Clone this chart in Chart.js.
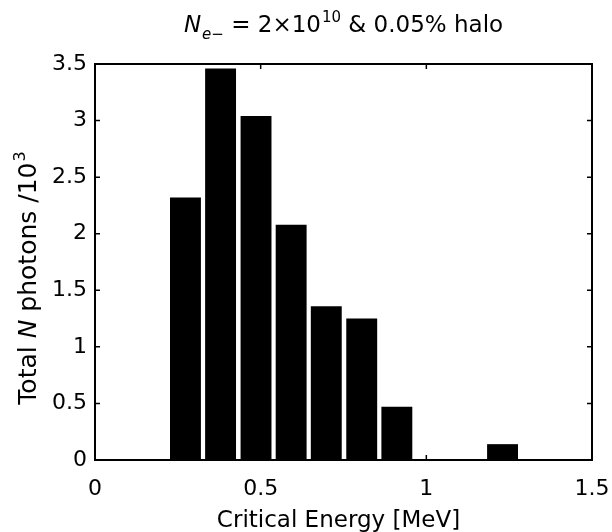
<!DOCTYPE html>
<html>
<head>
<meta charset="utf-8">
<script src="https://cdn.jsdelivr.net/npm/chart.js@4.4.1/dist/chart.umd.min.js"></script>
<style>
  html, body { margin: 0; padding: 0; background: #fff; }
  #wrap { width: 612px; height: 532px; }
</style>
</head>
<body>
<div id="wrap"><canvas id="grafico1" width="612" height="532"></canvas></div>
<script>
// Datos
const energyBins = [0.273, 0.379, 0.486, 0.592, 0.698, 0.805, 0.911, 1.017, 1.124, 1.230]; // MeV (centros)
const photonCounts = [2.32, 3.46, 3.04, 2.08, 1.36, 1.25, 0.47, 0, 0, 0.14]; // /10^3
const xTicks = [0, 0.5, 1, 1.5];
const yTicks = [0, 0.5, 1, 1.5, 2, 2.5, 3, 3.5];

const FONT = '"DejaVu Sans", "Liberation Sans", Arial, sans-serif';

// Dibuja texto por partes (cursiva, sub/superíndices)
function drawPieces(ctx, pieces, x, y, align) {
    let total = 0;
    pieces.forEach(p => {
        ctx.font = (p.italic ? 'italic ' : '') + p.size + 'px ' + FONT;
        p.w = ctx.measureText(p.text).width + (p.gap || 0);
        total += p.w;
    });
    let cx = align === 'center' ? x - total / 2 : x;
    pieces.forEach(p => {
        ctx.font = (p.italic ? 'italic ' : '') + p.size + 'px ' + FONT;
        ctx.fillText(p.text, cx + (p.gap || 0), y + (p.dy || 0));
        cx += p.w;
    });
}

// Caja, marcas hacia dentro y textos estilo MATLAB
const matlabFrame = {
    id: 'matlabFrame',
    afterDatasetsDraw(chart) {
        const { ctx, chartArea: a, scales } = chart;
        ctx.save();
        ctx.strokeStyle = '#000';
        ctx.lineWidth = 1.5;
        ctx.beginPath();
        xTicks.forEach(v => {
            const px = scales.x.getPixelForValue(v);
            ctx.moveTo(px, a.bottom); ctx.lineTo(px, a.bottom - 5);
            ctx.moveTo(px, a.top); ctx.lineTo(px, a.top + 5);
        });
        yTicks.forEach(v => {
            const py = scales.y.getPixelForValue(v);
            ctx.moveTo(a.left, py); ctx.lineTo(a.left + 5, py);
            ctx.moveTo(a.right, py); ctx.lineTo(a.right - 5, py);
        });
        ctx.stroke();
        ctx.lineWidth = 2;
        ctx.strokeRect(a.left, a.top, a.right - a.left, a.bottom - a.top);

        ctx.fillStyle = '#000';
        ctx.textBaseline = 'alphabetic';
        ctx.textAlign = 'left';

        // Título
        drawPieces(ctx, [
            { text: 'N', size: 23, italic: true },
            { text: 'e\u2212', size: 15, italic: true, dy: 7, gap: 1 },
            { text: ' = 2\u00d710', size: 23 },
            { text: '10', size: 15, dy: -10, gap: 1 },
            { text: ' & 0.05% halo', size: 23 }
        ], (a.left + a.right) / 2, 32, 'center');

        // Eje X
        ctx.font = '23px ' + FONT;
        ctx.textAlign = 'center';
        ctx.fillText('Critical Energy [MeV]', (a.left + a.right) / 2 - 5, 527);

        // Eje Y
        ctx.textAlign = 'left';
        ctx.save();
        ctx.translate(36, a.top + 214);
        ctx.rotate(-Math.PI / 2);
        drawPieces(ctx, [
            { text: 'Total ', size: 25 },
            { text: 'N', size: 25, italic: true },
            { text: ' photons /10', size: 25 },
            { text: '3', size: 16, dy: -11, gap: 1 }
        ], 0, 0, 'center');
        ctx.restore();
        ctx.restore();
    }
};

const ctx = document.getElementById('grafico1').getContext('2d');

const config = {
    type: 'bar',
    data: {
        datasets: [{
            label: 'Total N photons',
            data: energyBins.map((e, i) => ({ x: e, y: photonCounts[i] })),
            backgroundColor: '#000',
            borderWidth: 0,
            categoryPercentage: 1.0,
            barPercentage: 0.88
        }]
    },
    options: {
        responsive: false,
        animation: false,
        devicePixelRatio: 1,
        layout: { padding: { top: 64, right: 20, left: 0, bottom: 0 } },
        plugins: {
            legend: { display: false },
            tooltip: { enabled: false },
            title: { display: false }
        },
        scales: {
            x: {
                type: 'linear',
                min: 0,
                max: 1.5,
                offset: false,
                grid: { display: false, drawTicks: false, offset: false },
                border: { display: false },
                afterFit: s => { s.height = 72; s.paddingLeft = 0; s.paddingRight = 0; },
                afterBuildTicks: s => { s.ticks = xTicks.map(v => ({ value: v })); },
                ticks: {
                    color: '#000',
                    padding: 16,
                    font: { family: FONT, size: 22 },
                    callback: v => String(v)
                }
            },
            y: {
                min: 0,
                max: 3.5,
                grid: { display: false, drawTicks: false },
                border: { display: false },
                afterFit: s => { s.width = 95; s.paddingTop = 0; s.paddingBottom = 0; },
                afterBuildTicks: s => { s.ticks = yTicks.map(v => ({ value: v })); },
                ticks: {
                    color: '#000',
                    padding: 8,
                    font: { family: FONT, size: 22 },
                    callback: v => String(v)
                }
            }
        }
    },
    plugins: [matlabFrame]
};

try {
    new Chart(ctx, config);
} catch (error) {
    console.error('Error al crear el gráfico:', error);
}
</script>
</body>
</html>
